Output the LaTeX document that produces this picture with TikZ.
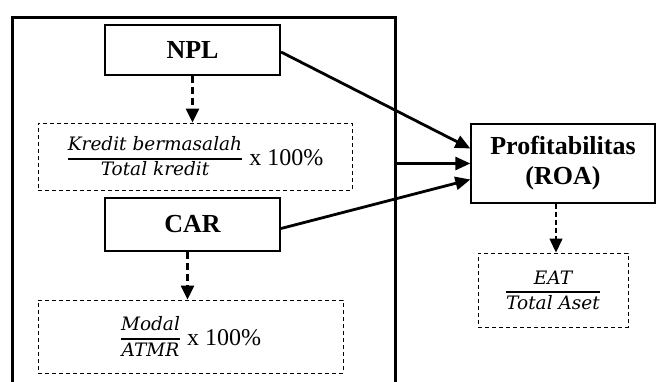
\documentclass[tikz,border=0pt]{standalone}
\usepackage{amsmath}
\usepackage{fontspec}
\setmainfont{Liberation Serif}
\newfontfamily\fmfont{DejaVu Serif}
\usetikzlibrary{arrows.meta,calc}
\newcommand{\fmi}{\fontsize{18.5}{21}\selectfont\fmfont\itshape}
\newcommand{\myfr}[2]{\ensuremath{\genfrac{}{}{1.4pt}{1}{\hbox{\fmi\rule[-6pt]{0pt}{6pt}#1}}{\hbox{\fmi\rule{0pt}{15pt}#2}}}}
\begin{document}
\begin{tikzpicture}[x=1pt,y=-1pt,
  varbox/.style={draw,line width=2pt,inner sep=0pt,minimum width=175pt,font=\fontsize{26}{30}\selectfont\bfseries},
  formbox/.style={draw,line width=0.9pt,dash pattern=on 4pt off 3pt,inner sep=0pt,font=\fontsize{24}{28}\selectfont},
  mainarrow/.style={line width=2.8pt,-{Triangle[length=15pt,width=13pt]}},
  dasharrow/.style={line width=2.4pt,dash pattern=on 7pt off 4pt,-{Triangle[length=14pt,width=13pt]}},
  thindasharrow/.style={line width=1.4pt,dash pattern=on 5pt off 3pt,-{Triangle[length=14pt,width=13pt]}}
]
\clip (0,0) rectangle (656,382);
\useasboundingbox (0,0) rectangle (656,382);
\node[draw,line width=3pt,minimum width=383pt,minimum height=390pt,inner sep=0pt,anchor=north west] (outer) at (11,16) {};
\node[varbox,minimum height=50pt] (npl) at (192.5,50) {NPL};
\node[formbox,minimum width=314pt,minimum height=67pt] (f1) at (195,156.5) {\myfr{Kredit bermasalah}{Total kredit} x 100\%};
\node[varbox,minimum height=53pt] (car) at (192.5,224.5) {CAR};
\node[formbox,minimum width=305pt,minimum height=73pt] (f2) at (190.5,336.5) {\myfr{Modal}{ATMR} x 100\%};
\node[draw,line width=1.3pt,minimum width=184pt,minimum height=79pt,inner sep=0pt,align=center,font=\fontsize{26}{30}\selectfont\bfseries] (roa) at (563,163.5) {Profitabilitas\\(ROA)};
\node[formbox,minimum width=150pt,minimum height=74pt] (f3) at (553,290) {\myfr{EAT}{Total Aset}};
\draw[mainarrow] ([yshift=-2pt]npl.east) -- ([yshift=15pt]roa.west);
\draw[mainarrow] (outer.east |- roa.west) -- (roa.west);
\draw[mainarrow] ([yshift=-4pt]car.east) -- ([yshift=-16pt]roa.west);
\draw[dasharrow] (npl.south) -- (npl.south |- f1.north);
\draw[dasharrow] ([xshift=-5pt]car.south) -- ([xshift=-5pt]car.south |- f2.north);
\draw[thindasharrow] ([xshift=-7pt]roa.south) -- ([xshift=-7pt]roa.south |- f3.north);
\end{tikzpicture}
\end{document}
